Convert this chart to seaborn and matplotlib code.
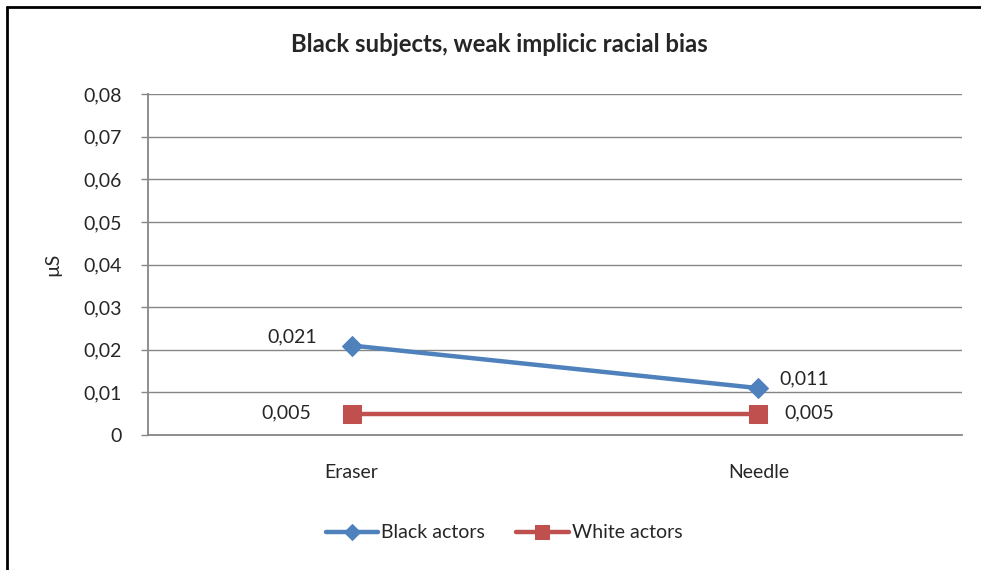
import matplotlib
matplotlib.use("Agg")
import matplotlib.pyplot as plt
from matplotlib.lines import Line2D
import seaborn as sns
import pandas as pd

categories = ["Eraser", "Needle"]
black_actors = [0.021, 0.011]
white_actors = [0.005, 0.005]
series_names = ["Black actors", "White actors"]
y_ticks = [0, 0.01, 0.02, 0.03, 0.04, 0.05, 0.06, 0.07, 0.08]
y_tick_labels = ["0", "0,01", "0,02", "0,03", "0,04", "0,05", "0,06", "0,07", "0,08"]

sns.set_style("white")
plt.rcParams["font.family"] = ["Lato", "DejaVu Sans"]

FS = 14

rows = []
for name, vals in zip(series_names, [black_actors, white_actors]):
    for i, (c, v) in enumerate(zip(categories, vals)):
        rows.append({"pos": i, "category": c, "value": v, "series": name})
df = pd.DataFrame(rows)

fig = plt.figure(figsize=(9.81, 5.70), dpi=100)
ax = fig.add_axes([0.1509, 0.2368, 0.9806 - 0.1509, 0.8351 - 0.2368])

colors = {"Black actors": "#4F81BD", "White actors": "#C0504D"}
markers = {"Black actors": "D", "White actors": "s"}
msizes = {"Black actors": 10, "White actors": 13}

for name in series_names:
    sub = df[df["series"] == name]
    sns.lineplot(data=sub, x="pos", y="value", ax=ax, color=colors[name],
                 linewidth=3.2, marker=markers[name], markersize=msizes[name],
                 markeredgecolor=colors[name], label=name, zorder=3)

ax.set_xlim(-0.5, len(categories) - 0.5)
ax.set_ylim(0, 0.08)
ax.set_yticks(y_ticks)
ax.set_yticklabels(y_tick_labels)
ax.set_xticks(range(len(categories)))
ax.set_xticklabels(categories)
ax.tick_params(axis="y", length=5, width=1, color="#868686", direction="out",
               labelsize=FS, pad=14, left=True)
ax.tick_params(axis="x", length=0, labelsize=FS, pad=21)
ax.grid(axis="y", color="#868686", linewidth=1)
ax.grid(axis="x", visible=False)
ax.set_axisbelow(True)
for side in ["top", "right"]:
    ax.spines[side].set_visible(False)
for side in ["left", "bottom"]:
    ax.spines[side].set_color("#868686")
    ax.spines[side].set_linewidth(1.3)
ax.set_xlabel("")
ax.set_ylabel("µS", fontsize=FS, labelpad=16)

fig.text(0.509, 1 - 45 / 570, "Black subjects, weak implicic racial bias",
         fontsize=17.2, fontweight="bold", ha="center", va="center")

# value labels (offsets in points)
offsets_black = [(-24.5, 6.5, "right"), (15, 6.5, "left")]
offsets_white = [(-28.8, 0.5, "right"), (18.7, 0.5, "left")]
for vals, offs in [(black_actors, offsets_black), (white_actors, offsets_white)]:
    for i, v in enumerate(vals):
        label = f"{v:.3f}".replace(".", ",")
        dx, dy, ha = offs[i]
        ax.annotate(label, (i, v), xytext=(dx, dy), textcoords="offset points",
                    ha=ha, va="center", fontsize=FS)

ax.legend(loc="center", ncol=2, frameon=False, fontsize=FS, handlelength=2.7,
          handletextpad=0.15, columnspacing=1.6, markerscale=0.8)
leg = ax.get_legend()
leg.set_bbox_to_anchor((504 / 981, 1 - 533 / 570), transform=fig.transFigure)

# outer frame on top and left edges
fig.add_artist(Line2D([0.0071, 0.0071], [0, 1 - 7 / 570], transform=fig.transFigure,
                      color="black", linewidth=2))
fig.add_artist(Line2D([0.0071, 1], [1 - 7 / 570, 1 - 7 / 570], transform=fig.transFigure,
                      color="black", linewidth=2))

fig.savefig("out.png", dpi=100)
